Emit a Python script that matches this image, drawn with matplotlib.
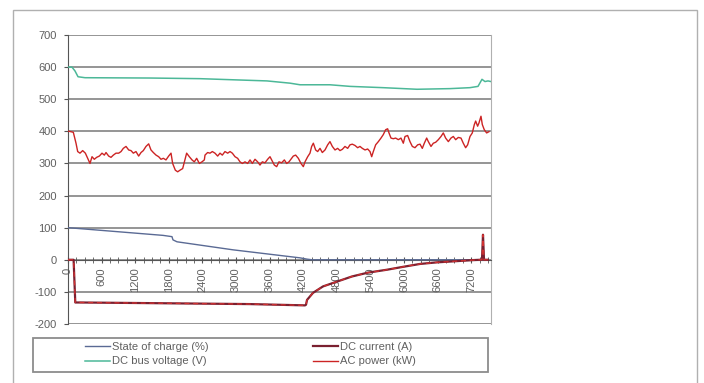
import matplotlib
matplotlib.use("Agg")
import matplotlib.pyplot as plt
from matplotlib.patches import Rectangle
from matplotlib.ticker import MultipleLocator

plt.rcParams['font.family'] = ['Liberation Sans', 'DejaVu Sans']
plt.rcParams['axes.unicode_minus'] = False

# ---- data (time in s) ----
soc_t = [0, 1697, 1857, 1875, 1947, 2947, 4144, 4269, 4358, 7501]
soc_v = [100, 76, 72, 62, 56, 31, 6, 2, 0, 0]

cur_t = [0, 100, 130, 214, 1465, 3250, 4233, 4251, 4269, 4376, 4554, 4804, 5072,
         5358, 5697, 5983, 6287, 6590, 6876, 7233, 7358, 7394, 7412, 7430, 7501]
cur_v = [0, 0, -133, -133, -135, -138, -142, -140, -125, -103, -83, -68, -52,
         -40, -31, -22, -13, -8, -5, -1, 0, 0, 78, 0, 0]

volt_t = [0, 71, 125, 179, 304, 1465, 2358, 3554, 3965, 4144, 4679, 5037, 5626,
          6233, 6823, 7180, 7323, 7394, 7447, 7501, 7555]
volt_v = [600, 600, 588, 570, 567, 566, 564, 557, 550, 545, 545, 540, 536,
          531, 533, 536, 540, 562, 555, 557, 555]

ac_t = [0, 24, 95, 143, 173, 214, 262, 310, 351, 393, 429, 470, 512, 560, 607,
        649, 679, 726, 768, 810, 857, 905, 947, 988, 1036, 1084, 1125, 1167,
        1214, 1262, 1304, 1345, 1393, 1441, 1482, 1524, 1572, 1619, 1661, 1703,
        1750, 1798, 1840, 1869, 1917, 1959, 2000, 2048, 2096, 2119, 2167, 2215,
        2256, 2298, 2346, 2393, 2435,
        2447, 2494, 2536, 2578, 2625, 2673, 2715, 2756, 2804, 2852, 2894, 2935,
        2983, 3030, 3072, 3114, 3161, 3209, 3251, 3292, 3340, 3387, 3429, 3471,
        3518, 3566, 3608, 3638, 3685, 3727, 3768, 3816, 3864, 3905, 3947, 3995,
        4024, 4066, 4114, 4161, 4203, 4233, 4281, 4322, 4352, 4382, 4423, 4459,
        4501, 4542, 4590, 4638, 4679, 4721, 4769, 4816, 4858, 4900, 4947,
        4995, 5037, 5078, 5126, 5173, 5215, 5257, 5305, 5352, 5394, 5424, 5453,
        5495, 5543, 5590, 5632, 5673, 5709, 5733, 5769, 5810, 5852, 5900, 5947,
        5989, 6019, 6066, 6108, 6150, 6197, 6245, 6287, 6328, 6364, 6406, 6436,
        6483, 6525, 6567, 6614, 6662, 6703, 6745, 6793, 6840, 6882, 6924, 6971,
        7019, 7060, 7102, 7138, 7180, 7221, 7257, 7281, 7316, 7340, 7376, 7400,
        7435, 7477, 7519]
ac_v = [400, 400, 397, 363, 337, 332, 340, 332, 316, 300, 321, 313, 319, 323, 332,
        326, 334, 323, 319, 326, 332, 332, 337, 347, 353, 342, 340, 332,
        337, 323, 334, 340, 353, 361, 342, 334, 326, 321, 313, 316,
        311, 323, 332, 300, 279, 274, 279, 284, 316, 332, 321, 311,
        305, 316, 300, 305, 311,
        326, 334, 332, 337, 332, 323, 332, 326, 337, 332, 337, 332,
        321, 316, 305, 300, 305, 300, 311, 300, 313, 305, 295, 305,
        302, 313, 321, 311, 295, 290, 305, 302, 311, 300, 305, 316,
        323, 326, 316, 300, 290, 305, 321, 332, 353, 363, 342, 337,
        347, 334, 342, 358, 368, 353, 342, 347, 340, 344, 353,
        347, 358, 360, 356, 349, 353, 347, 342, 345, 337, 321, 337,
        358, 368, 379, 390, 405, 408, 395, 379, 377, 379, 374, 379,
        363, 384, 387, 368, 353, 349, 358, 360, 347, 363, 379, 368,
        353, 363, 366, 374, 384, 395, 379, 368, 379, 384, 374, 381,
        379, 363, 349, 358, 384, 395, 421, 432, 416, 426, 447, 421,
        405, 395, 399]

xticks = list(range(0, 7201, 600))
yticks = list(range(-200, 701, 100))

# ---- figure ----
fig = plt.figure(figsize=(7.04, 3.83), dpi=100)
fig.patches.append(Rectangle((13 / 704, -0.05), (697 - 13) / 704, 1 - 10 / 383 + 0.05,
                             transform=fig.transFigure, fill=False,
                             edgecolor='#b0b0b0', linewidth=1.0))

ax = fig.add_axes([68 / 704, 1 - 324 / 383, (491 - 68) / 704, (324 - 35) / 383])
ax.set_xlim(0, 7555)
ax.set_ylim(-200, 700)

for y in yticks:
    ax.axhline(y, color='#8c8c8c', linewidth=1.3, zorder=1)

l1, = ax.plot(soc_t, soc_v, color='#5a6a94', linewidth=1.0, zorder=3, label='State of charge (%)')
l2, = ax.plot(cur_t, cur_v, color='#7a2030', linewidth=1.6, zorder=3, label='DC current (A)')
ax.plot(cur_t, cur_v, color='#d03030', linewidth=0.9, dashes=(4, 3), zorder=4)
l3, = ax.plot(volt_t, volt_v, color='#4cb898', linewidth=1.1, zorder=3, label='DC bus voltage (V)')
l4, = ax.plot(ac_t, ac_v, color='#cc2424', linewidth=1.0, zorder=3, label='AC power (kW)')

ax.spines['bottom'].set_position(('data', 0))
ax.spines['bottom'].set_color('#555555')
ax.spines['left'].set_color('#555555')
ax.spines['top'].set_visible(False)
ax.spines['right'].set_color('#b0b0b0')

ax.set_yticks(yticks)
ax.set_xticks(xticks)
ax.xaxis.set_minor_locator(MultipleLocator(150))
ax.tick_params(axis='x', which='major', direction='inout', length=5, color='#555555',
               labelsize=8, labelcolor='#606060', labelrotation=90, pad=3)
ax.tick_params(axis='x', which='minor', direction='inout', length=4, color='#555555')
ax.tick_params(axis='y', direction='out', length=3, color='#555555',
               labelsize=8, labelcolor='#606060', pad=5)

# ---- legend ----
fig.patches.append(Rectangle((33 / 704, 1 - 372 / 383), (488 - 33) / 704, (372 - 338) / 383,
                             transform=fig.transFigure, fill=False,
                             edgecolor='#8c8c8c', linewidth=1.3))
kw = dict(frameon=False, fontsize=8, handlelength=2.25, handletextpad=0.2,
          labelspacing=0.45, borderpad=0, borderaxespad=0, loc='upper left')
lg1 = fig.legend([l1, l3], ['State of charge (%)', 'DC bus voltage (V)'],
                 bbox_to_anchor=(85 / 704, 1 - 341.5 / 383), **kw)
lg2 = fig.legend([l2, l4], ['DC current (A)', 'AC power (kW)'],
                 bbox_to_anchor=(313 / 704, 1 - 341.5 / 383), **kw)
for lg in (lg1, lg2):
    for t in lg.get_texts():
        t.set_color('#606060')

fig.savefig('out.png', dpi=100)
